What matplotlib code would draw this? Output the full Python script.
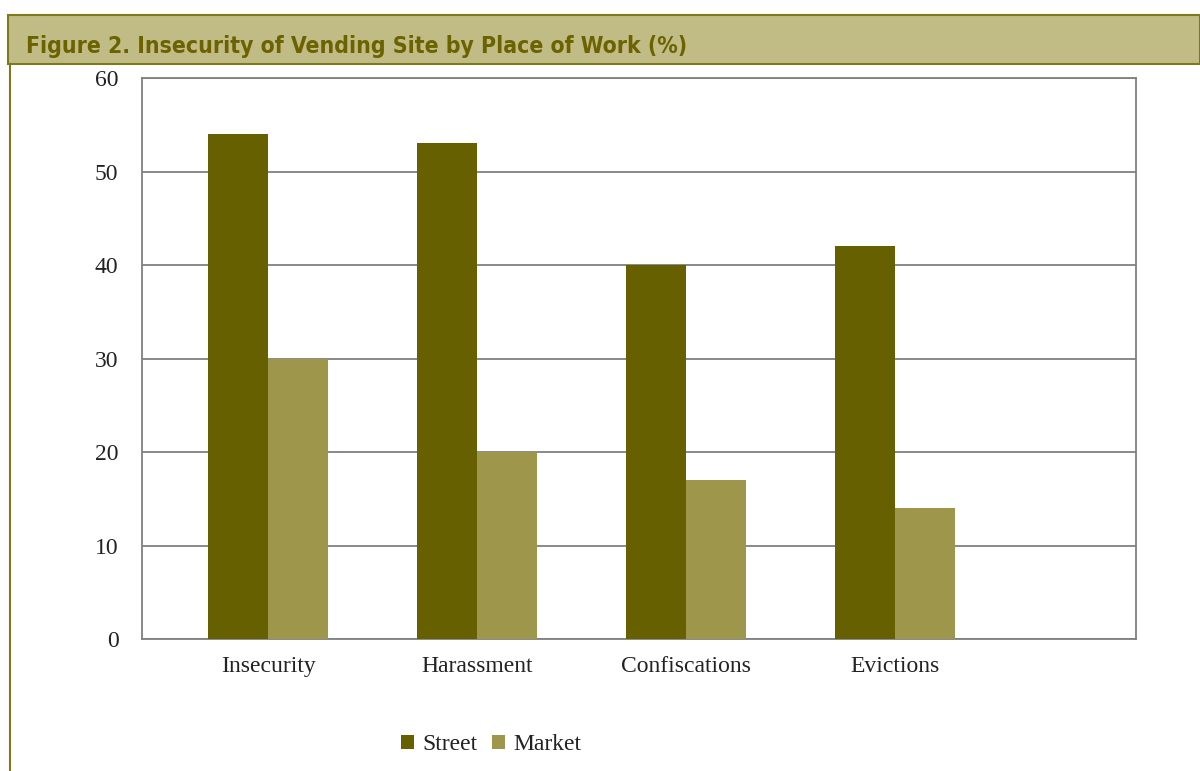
import numpy as np
import matplotlib.pyplot as plt
from matplotlib.patches import Rectangle
from matplotlib.lines import Line2D

categories = ["Insecurity", "Harassment", "Confiscations", "Evictions"]
street = [54, 53, 40, 42]
market = [30, 20, 17, 14]
yticks = [0, 10, 20, 30, 40, 50, 60]

dark = "#676000"
light = "#9e964b"
olive = "#7d7a1c"

fig = plt.figure(figsize=(12, 7.71), dpi=100)

# header band
fig.patches.append(Rectangle((8 / 1200, 1 - 64 / 771), 1 - 8 / 1200, 49 / 771,
                             transform=fig.transFigure, facecolor="#c1bb86",
                             edgecolor=olive, linewidth=1.5))
fig.lines.append(Line2D([10 / 1200, 10 / 1200], [0, 1 - 64 / 771],
                        transform=fig.transFigure, color=olive, linewidth=1.5))
fig.text(26 / 1200, 1 - 46 / 771, "Figure 2. Insecurity of Vending Site by Place of Work (%)",
         fontsize=16.5, fontweight="bold", fontstretch="condensed", color="#6a6300",
         va="center", family="DejaVu Sans")

ax = fig.add_axes([142 / 1200, 1 - 639 / 771, (1136 - 142) / 1200, (639 - 78) / 771])
x = np.arange(len(categories))
w = 0.287
ax.bar(x - w / 2, street, w, color=dark, label="Street", zorder=3)
ax.bar(x + w / 2, market, w, color=light, label="Market", zorder=3)

ax.set_xlim(-0.603, 4.153)
ax.set_ylim(0, 60)
ax.set_yticks(yticks)
ax.set_xticks(x)
ax.set_xticklabels(categories)
ax.yaxis.grid(True, color="#808080", linewidth=1.3, zorder=1)
ax.tick_params(length=0, labelsize=17, colors="#222222")
ax.tick_params(axis="y", pad=17)
ax.tick_params(axis="x", pad=12)
for lab in ax.get_xticklabels() + ax.get_yticklabels():
    lab.set_family("Liberation Serif")
for s in ax.spines.values():
    s.set_color("#808080")
    s.set_linewidth(1.3)

leg = fig.legend(loc="center", bbox_to_anchor=(491 / 1200, 1 - 745 / 771), ncol=2,
                 frameon=False, handlelength=0.55, handleheight=0.55, columnspacing=0.6,
                 handletextpad=0.35, prop={"family": "Liberation Serif", "size": 17})
for t in leg.get_texts():
    t.set_color("#222222")

fig.savefig("out.png", dpi=100)
